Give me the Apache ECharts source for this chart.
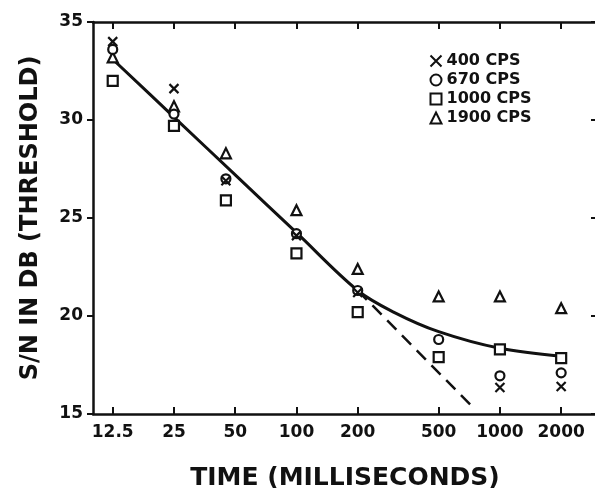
<!DOCTYPE html>
<html>
<head>
<meta charset="utf-8">
<script src="https://cdn.jsdelivr.net/npm/echarts@6/dist/echarts.min.js"></script>
<style>
  html, body { margin: 0; padding: 0; background: #fff; }
  #chart { width: 595px; height: 488px; }
</style>
</head>
<body>
<div id="chart"></div>
<script>
// Signal duration (ms) at which thresholds were measured
const times = [12.5, 25, 45, 100, 200, 500, 1000, 2000];
// Threshold S/N in dB for each tone frequency
const cps400  = [34.0, 31.6, 26.9, 24.1, 21.2, null, 16.35, 16.4];
const cps670  = [33.6, 30.3, 27.0, 24.2, 21.3, 18.8, 16.95, 17.1];
const cps1000 = [32.0, 29.7, 25.9, 23.2, 20.2, 17.9, 18.3, 17.85];
const cps1900 = [33.2, 30.7, 28.3, 25.4, 22.4, 21.0, 21.0, 20.4];

// Fitted curve and the extrapolated straight-line portion
const curveT  = [12.5, 25, 50, 100, 200, 300, 500, 1000, 2000];
const curveDb = [33.1, 30.15, 27.2, 24.25, 21.3, 20.2, 19.2, 18.35, 17.95];
const dashT  = [200, 760];
const dashDb = [21.3, 15.2];

// Axis ticks
const timeTicks = [12.5, 25, 50, 100, 200, 500, 1000, 2000];
const dbMin = 15, dbMax = 35, dbStep = 5;

const seriesNames = ['400 CPS', '670 CPS', '1000 CPS', '1900 CPS'];
const seriesValues = [cps400, cps670, cps1000, cps1900];

const INK = '#111';
const FONT = 'DejaVu Sans';
const crossPath = 'path://M0,0L10,10M10,0L0,10';
const symbols = [crossPath, 'circle', 'rect', 'triangle'];
const sizes = [9, 9, 10, 10];
const layers = [8, 7, 6, 5];

const pairs = (xs, ys) => xs.map((x, i) => [x, ys[i]]).filter(p => p[1] != null);

const scatterSeries = seriesNames.map((name, k) => ({
  name: name,
  type: 'scatter',
  symbol: symbols[k],
  symbolSize: sizes[k],
  itemStyle: { color: k === 0 ? 'none' : '#fff', borderColor: INK, borderWidth: 2.2, opacity: 1 },
  data: pairs(times, seriesValues[k]),
  z: layers[k]
}));

const tickLabel = { fontFamily: FONT, fontWeight: 'bold', fontSize: 17, color: INK };

const option = {
  animation: false,
  backgroundColor: '#fff',
  grid: { left: 93, right: -2, top: 22, bottom: 74, outerBoundsMode: 'none', containLabel: false },
  xAxis: [{
    type: 'log',
    min: 10,
    max: 3000,
    position: 'bottom',
    axisLine: { show: true, lineStyle: { color: INK, width: 2.5 } },
    axisTick: { show: true, inside: true, length: 7, customValues: timeTicks, lineStyle: { color: INK, width: 2 } },
    axisLabel: { show: true, customValues: timeTicks, margin: 10, ...tickLabel, formatter: v => String(v) },
    splitLine: { show: false },
    minorTick: { show: false },
    name: 'TIME (MILLISECONDS)',
    nameLocation: 'middle',
    nameGap: 52,
    nameTextStyle: { fontFamily: FONT, fontWeight: 'bold', fontSize: 25, color: INK }
  }, {
    type: 'log',
    min: 10,
    max: 3000,
    position: 'top',
    axisLine: { show: true, lineStyle: { color: INK, width: 2.5 } },
    axisTick: { show: true, inside: true, length: 7, customValues: timeTicks, lineStyle: { color: INK, width: 2 } },
    axisLabel: { show: false },
    splitLine: { show: false }
  }],
  yAxis: [{
    type: 'value',
    min: dbMin,
    max: dbMax,
    interval: dbStep,
    position: 'left',
    axisLine: { show: true, lineStyle: { color: INK, width: 2.5 } },
    axisTick: { show: true, inside: false, length: 6, lineStyle: { color: INK, width: 2 } },
    axisLabel: { margin: 10, ...tickLabel },
    splitLine: { show: false },
    name: 'S/N IN DB (THRESHOLD)',
    nameLocation: 'middle',
    nameGap: 50,
    nameRotate: 90,
    nameTextStyle: { fontFamily: FONT, fontWeight: 'bold', fontSize: 24, color: INK }
  }, {
    type: 'value',
    min: dbMin,
    max: dbMax,
    interval: dbStep,
    position: 'right',
    axisLine: { show: true, lineStyle: { color: INK, width: 2.5 } },
    axisTick: { show: true, inside: true, length: 6, lineStyle: { color: INK, width: 2 } },
    axisLabel: { show: false },
    splitLine: { show: false }
  }],
  legend: {
    data: seriesNames,
    orient: 'vertical',
    left: 423,
    top: 48,
    itemWidth: 11,
    itemHeight: 11,
    itemGap: 3,
    selectedMode: false,
    textStyle: { fontFamily: FONT, fontWeight: 'bold', fontSize: 16, color: INK }
  },
  series: [
    {
      name: 'fit',
      type: 'line',
      data: pairs(curveT, curveDb),
      smooth: 0.35,
      showSymbol: false,
      lineStyle: { color: INK, width: 3 },
      z: 3
    },
    {
      name: 'extrapolation',
      type: 'line',
      data: pairs(dashT, dashDb),
      showSymbol: false,
      lineStyle: { color: INK, width: 2.5, type: [13, 8] },
      z: 3
    },
    ...scatterSeries
  ]
};

const chart = echarts.init(document.getElementById('chart'), null, { renderer: 'canvas' });
chart.setOption(option);
</script>
</body>
</html>
